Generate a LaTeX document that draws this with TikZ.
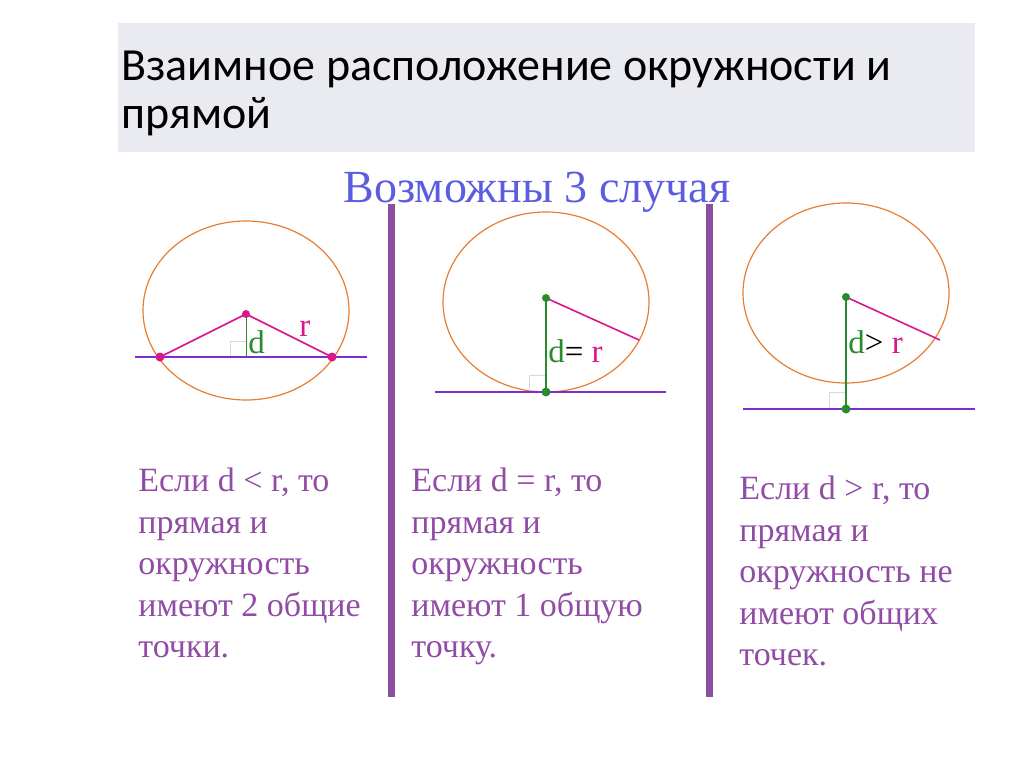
\documentclass[tikz,border=0pt]{standalone}
\usepackage{fontspec}
\setmainfont{Liberation Serif}
\newfontfamily\titlefont{Carlito}

\definecolor{titlegray}{RGB}{233,235,240}
\definecolor{titleblue}{RGB}{92,92,226}
\definecolor{barpurple}{RGB}{142,78,160}
\definecolor{textpurple}{RGB}{145,76,165}
\definecolor{circorange}{RGB}{230,125,50}
\definecolor{linepurple}{RGB}{125,45,205}
\definecolor{radmagenta}{RGB}{218,22,140}
\definecolor{dgreen}{RGB}{40,140,45}

\tikzset{every picture/.style={line width=0.75pt}}
\tikzset{
  circ/.style={draw=circorange, line width=1.2pt},
  tline/.style={draw=linepurple, line width=1.5pt},
  rad/.style={draw=radmagenta, line width=1.6pt},
  dist/.style={draw=dgreen, line width=1.8pt},
  rangle/.style={draw=black!15, line width=0.8pt},
  sepbar/.style={draw=barpurple, line width=7pt},
  casetext/.style={anchor=north west, inner sep=0pt, align=left, text=textpurple,
    font=\fontsize{34}{41.5}\selectfont},
  lbl/.style={anchor=base west, inner sep=0pt, font=\fontsize{33}{36}\selectfont}
}

\begin{document}
\begin{tikzpicture}[x=1pt,y=1pt,yscale=-1,xscale=1]
\useasboundingbox (0,0) rectangle (1024,767);

%Shape: Rectangle (title band)
\fill[titlegray] (118,23) rectangle (975,152);
% Text Node
\node[anchor=north west, inner sep=0pt, align=left, font=\titlefont\fontsize{46}{48}\selectfont] (title) at (121,51)
  {Взаимное расположение окружности и\\прямой};
% Text Node
\node[anchor=base, inner sep=0pt, text=titleblue, font=\fontsize{46}{50}\selectfont] (cases) at (537,203) {Возможны 3 случая};

%Straight Lines (separators)
\coordinate (barAtop) at (391,204);
\coordinate (barAbot) at (391,697);
\coordinate (barBtop) at (709,204);
\coordinate (barBbot) at (709,697);
\draw[sepbar] (barAtop) -- (barAbot);
\draw[sepbar] (barBtop) -- (barBbot);

%Case 1: d < r
\coordinate (C1) at (246,310.5);
\coordinate (O1) at (246,314);
\coordinate (H1) at (246,357);
\coordinate (A1) at (160,357);
\coordinate (B1) at (332,357);
\coordinate (L1a) at (135,357);
\coordinate (L1b) at (367,357);
\draw[circ] (C1) ellipse [x radius=103, y radius=89.5];
\draw[rangle] (H1) -- ++(-16,0) -- ++(0,-16) -- ++(16,0);
\draw[tline] (L1a) -- (L1b);
\draw[rad] (A1) -- (O1) -- (B1);
\draw[draw=dgreen, line width=1pt] (O1) -- (H1);
\fill[radmagenta] (O1) circle (4) (A1) circle (4.5) (B1) circle (4.5);
\node[lbl, text=dgreen] (d1) at (248,353) {d};
\node[lbl, text=radmagenta] (r1) at (299,336) {r};

%Case 2: d = r
\coordinate (C2) at (546,302);
\coordinate (O2) at (546,298);
\coordinate (H2) at (546,392);
\coordinate (R2) at (639,340);
\coordinate (L2a) at (435,392);
\coordinate (L2b) at (666,392);
\draw[circ] (C2) ellipse [x radius=103, y radius=90];
\draw[rangle] (H2) -- ++(-17,0) -- ++(0,-17) -- ++(17,0);
\draw[tline] (L2a) -- (L2b);
\draw[rad] (O2) -- (R2);
\draw[dist] (O2) -- (H2);
\fill[dgreen] (O2) circle (4) (H2) circle (4.5);
\node[lbl] (d2) at (548,362) {\textcolor{dgreen}{d}= \textcolor{radmagenta}{r}};

%Case 3: d > r
\coordinate (C3) at (846,293);
\coordinate (O3) at (846,297);
\coordinate (H3) at (846,409);
\coordinate (R3) at (940,340);
\coordinate (L3a) at (743,409);
\coordinate (L3b) at (975,409);
\draw[circ] (C3) ellipse [x radius=103, y radius=90];
\draw[rangle] (H3) -- ++(-17,0) -- ++(0,-17) -- ++(17,0);
\draw[tline] (L3a) -- (L3b);
\draw[rad] (O3) -- (R3);
\draw[dist] (O3) -- (H3);
\fill[dgreen] (O3) circle (4) (H3) circle (4.5);
\node[lbl] (d3) at (848,353) {\textcolor{dgreen}{d}> \textcolor{radmagenta}{r}};

% Text Nodes
\node[casetext] (txt1) at (138,468) {Если d < r, то\\прямая и\\окружность\\имеют 2 общие\\точки.};
\node[casetext] (txt2) at (411,468) {Если d = r, то\\прямая и\\окружность\\имеют 1 общую\\точку.};
\node[casetext] (txt3) at (739,476) {Если d > r, то\\прямая и\\окружность не\\имеют общих\\точек.};

\end{tikzpicture}
\end{document}
